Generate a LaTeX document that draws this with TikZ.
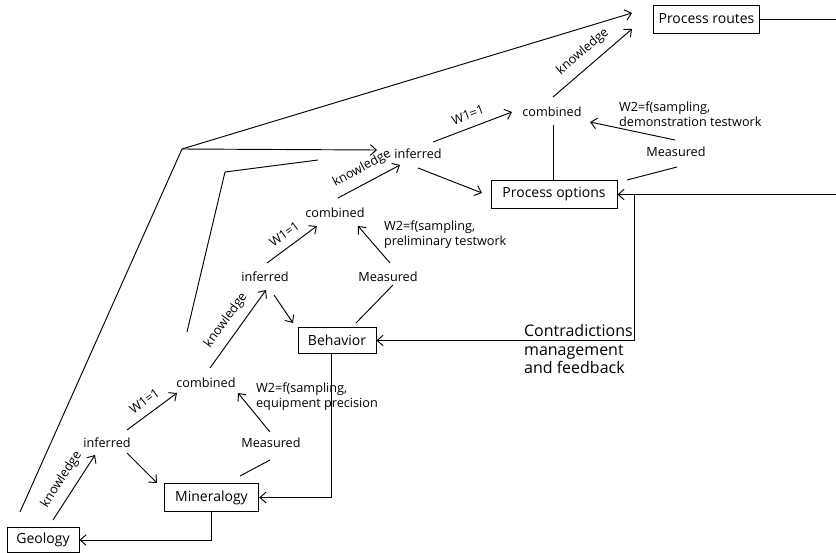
\documentclass[tikz,border=0pt]{standalone}
\usepackage{fontspec}
\setmainfont{Open Sans}
\usetikzlibrary{arrows.meta,calc}

\begin{document}
\begin{tikzpicture}[x=0.75pt,y=-0.75pt,line width=0.7pt,every node/.style={font=\fontsize{9.5}{11.5}\selectfont,inner sep=2pt},box/.style={draw,font=\fontsize{10.5}{12}\selectfont,minimum height=21pt},tag/.style={sloped,above=4pt,midway},arrow/.style={-{Straight Barb[length=4.5pt,width=8pt]}}]
\useasboundingbox (0,0) rectangle (836,553);
% boxes
\node[box,minimum width=54pt,minimum height=18.75pt] (geo) at (43,540) {Geology};
\node[box,minimum width=71pt] (min) at (211.5,497.5) {Mineralogy};
\node[box,minimum width=58.5pt,minimum height=20pt] (beh) at (337,340.5) {Behavior};
\node[box,minimum width=94.5pt] (opt) at (554,194.5) {Process options};
\node[box,minimum width=80pt] (rou) at (706.5,19) {Process routes};
% estimates
\node (inf1) at (107,443) {inferred}; \node (com1) at (206,383) {combined}; \node (mea1) at (271,443) {Measured};
\node (inf2) at (265,277) {inferred}; \node (com2) at (335,213) {combined}; \node (mea2) at (388,277) {Measured};
\node (inf3) at (418,154) {inferred}; \node (com3) at (552,112) {combined}; \node (mea3) at (676,152) {Measured};
\node[anchor=west,align=left] (w2a) at (253,397) {W2=f(sampling,\\equipment precision};
\node[anchor=west,align=left] (w2b) at (381,234.5) {W2=f(sampling,\\preliminary testwork};
\node[anchor=west,align=left] (w2c) at (616,114.5) {W2=f(sampling,\\demonstration testwork};
\node[anchor=west,align=left,font=\fontsize{12}{14}\selectfont] (fb) at (521,349) {Contradictions\\management\\and feedback};
\coordinate (k1) at (20,512); \coordinate (k2) at (182,149);
\coordinate (k3) at (187,332); \coordinate (k4) at (225,172); \coordinate (k5) at (318,160);
\coordinate (right1) at (836,19); \coordinate (right2) at (836,194.5);
% lower stage
\draw[arrow] ($(geo)+(10,-20)$) -- node[tag]{knowledge} ($(inf1)+(-12,12)$);
\draw[arrow] ($(inf1)+(20,-13)$) -- node[tag]{W1=1} ($(com1)+(-29,10)$);
\draw[arrow] ($(inf1)+(20,10)$) -- ($(min)+(-54.5,-14.5)$);
\draw[arrow] ($(mea1)+(-1,-11)$) -- ($(com1)+(32,10)$);
\draw ($(min)+(28.5,-21.5)$) -- ($(mea1)+(-1,17)$);
\draw[arrow] (min.south) |- (geo.east);
\draw[arrow] ($(beh.south)+(-6,0)$) |- (min.east);
% middle stage
\draw[arrow] ($(com1)+(4,-15)$) -- node[tag]{knowledge} ($(inf2)+(1,13)$);
\draw[arrow] ($(inf2)+(9,18)$) -- ($(beh)+(-44,-17.5)$);
\draw ($(beh)+(19,-17.5)$) -- ($(mea2)+(5,8)$);
\draw[arrow] ($(inf2)+(2,-14)$) -- node[tag]{W1=1} ($(com2)+(-18,13)$);
\draw[arrow] ($(mea2)+(2,-14)$) -- ($(com2)+(23,13)$);
\draw[arrow] (right2) -- (opt.east);
\draw[arrow] ($(opt.east)+(17,0)$) |- (beh.east);
% upper stage
\draw[arrow] ($(com2)+(3,-15)$) -- node[tag]{knowledge} ($(inf3)+(-18,11)$);
\draw[arrow] ($(inf3)+(0,14)$) -- ($(opt)+(-72,-1.5)$);
\draw[arrow] ($(inf3)+(15,-12)$) -- node[tag]{W1=1} ($(com3)+(-40,0)$);
\draw[arrow] ($(mea3)+(-1,-12)$) -- ($(com3)+(38,10)$);
\draw ($(opt)+(73,-14.5)$) -- ($(mea3)+(1,15)$);
\draw ($(com3)+(1,13)$) -- ($(opt.north)+(-1,0)$);
\draw[arrow] ($(com3)+(1,-15)$) -- node[tag]{knowledge} ($(rou)+(-74.5,10)$);
\draw (rou.east) -- (right1);
% long feeds
\draw[arrow] (k1) -- (k2) -- ($(rou)+(-74.5,-6)$);
\draw[arrow] (k2) -- ($(inf3)+(-41,-4)$);
\draw (k3) -- (k4) -- (k5);
\end{tikzpicture}
\end{document}
